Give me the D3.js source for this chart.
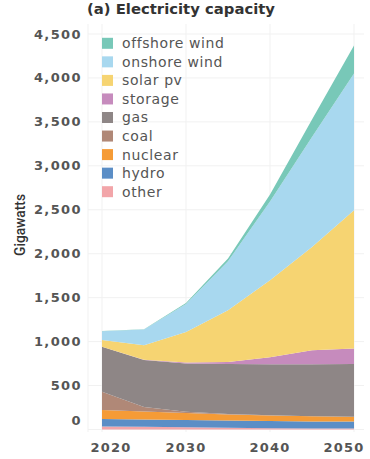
<!DOCTYPE html>
<html>
<head>
<meta charset="utf-8">
<script src="https://cdn.jsdelivr.net/npm/d3@7"></script>
<style>
  body { margin: 0; padding: 0; background: #fff; overflow: hidden; }
</style>
</head>
<body>
<script>
  // capacity by source, GW
  const years = [2020, 2025, 2030, 2035, 2040, 2045, 2050];
  const other = [35, 30, 25, 20, 15, 12, 10];
  const hydro = [85, 84, 83, 82, 81, 80, 80];
  const nuclear = [102, 91, 79, 68, 63, 60, 55];
  const coal = [208, 51, 15, 5, 2, 0, 0];
  const gas = [511, 534, 550, 569, 580, 591, 599];
  const storage = [0, 3, 10, 25, 80, 160, 178];
  const solar = [76, 167, 348, 589, 878, 1173, 1572];
  const onshore = [102, 177, 318, 557, 895, 1251, 1556];
  const offshore = [3, 5, 10, 30, 80, 200, 320];

  const yTicks = [0, 500, 1000, 1500, 2000, 2500, 3000, 3500, 4000, 4500];
  const xTicks = [2020, 2030, 2040, 2050];

  // bottom to top
  const keys = ["other", "hydro", "nuclear", "coal", "gas", "storage", "solar pv", "onshore wind", "offshore wind"];
  const series = [other, hydro, nuclear, coal, gas, storage, solar, onshore, offshore];
  const colors = ["#f2a5a9", "#5b8ec6", "#f59b36", "#b08877", "#8e8686", "#c68bbd", "#f6d472", "#a8d8ef", "#78c8b8"];

  const rows = years.map((y, i) => {
    const r = {year: y};
    keys.forEach((k, j) => r[k] = series[j][i]);
    return r;
  });

  const width = 370, height = 459;
  const svg = d3.select("body").append("svg")
    .attr("width", width)
    .attr("height", height);

  const x = d3.scaleLinear().domain([2020, 2050]).range([102, 354]);
  const y = d3.scaleLinear().domain([0, 4500]).range([429.5, 34]);

  // grid
  svg.append("line")
    .attr("x1", 88).attr("x2", 88).attr("y1", 24).attr("y2", 432)
    .attr("stroke", "#f1f1f1");
  svg.append("g").selectAll("line")
    .data(yTicks)
    .enter().append("line")
    .attr("x1", 88).attr("x2", 364)
    .attr("y1", d => y(d)).attr("y2", d => y(d))
    .attr("stroke", "#f1f1f1");
  svg.append("g").selectAll("line")
    .data(xTicks)
    .enter().append("line")
    .attr("x1", d => x(d)).attr("x2", d => x(d))
    .attr("y1", 24).attr("y2", 432)
    .attr("stroke", "#f1f1f1");

  const stack = d3.stack().keys(keys);
  const layers = stack(rows);

  const area = d3.area()
    .x(d => x(d.data.year))
    .y0(d => y(d[0]))
    .y1(d => y(d[1]));

  svg.append("g").selectAll("path")
    .data(layers)
    .enter().append("path")
    .attr("d", area)
    .style("fill", (d, i) => colors[i]);

  // y axis labels
  svg.append("g").selectAll("text")
    .data(yTicks)
    .enter().append("text")
    .attr("x", 82)
    .attr("y", d => d === 0 ? y(d) - 9 : y(d))
    .attr("dy", "0.35em")
    .attr("text-anchor", "end")
    .style("font-family", "DejaVu Sans")
    .style("font-size", "13px")
    .style("font-weight", "bold")
    .style("letter-spacing", "1.4px")
    .style("fill", "#555")
    .text(d => d3.format(",")(d));

  // x axis labels
  svg.append("g").selectAll("text")
    .data(xTicks)
    .enter().append("text")
    .attr("x", (d, i) => x(d) + (i === 0 ? 9 : i === xTicks.length - 1 ? -10 : 0))
    .attr("y", 452)
    .attr("text-anchor", "middle")
    .style("font-family", "DejaVu Sans")
    .style("font-size", "13px")
    .style("font-weight", "bold")
    .style("letter-spacing", "1.2px")
    .style("fill", "#555")
    .text(d => d);

  svg.append("text")
    .attr("transform", "translate(25,225) rotate(-90)")
    .attr("text-anchor", "middle")
    .attr("textLength", 62)
    .attr("lengthAdjust", "spacingAndGlyphs")
    .style("font-family", "Roboto")
    .style("font-size", "15px")
    .style("font-weight", "500")
    .style("fill", "#333")
    .text("Gigawatts");

  svg.append("text")
    .attr("x", 181)
    .attr("y", 14)
    .attr("text-anchor", "middle")
    .attr("textLength", 188)
    .attr("lengthAdjust", "spacingAndGlyphs")
    .style("font-family", "DejaVu Sans")
    .style("font-size", "14px")
    .style("font-weight", "bold")
    .style("fill", "#333")
    .text("(a) Electricity capacity");

  // legend, top entry first
  const legend = svg.append("g").selectAll("g")
    .data(keys.slice().reverse())
    .enter().append("g")
    .attr("transform", (d, i) => "translate(102," + (43.3 + i * 18.55) + ")");
  legend.append("rect")
    .attr("x", 0).attr("y", -5.5)
    .attr("width", 11).attr("height", 11)
    .style("fill", d => colors[keys.indexOf(d)]);
  legend.append("text")
    .attr("x", 20)
    .attr("dy", "0.35em")
    .style("font-family", "DejaVu Sans")
    .style("font-size", "14px")
    .style("letter-spacing", "0.6px")
    .style("fill", "#555")
    .text(d => d);
</script>
</body>
</html>
